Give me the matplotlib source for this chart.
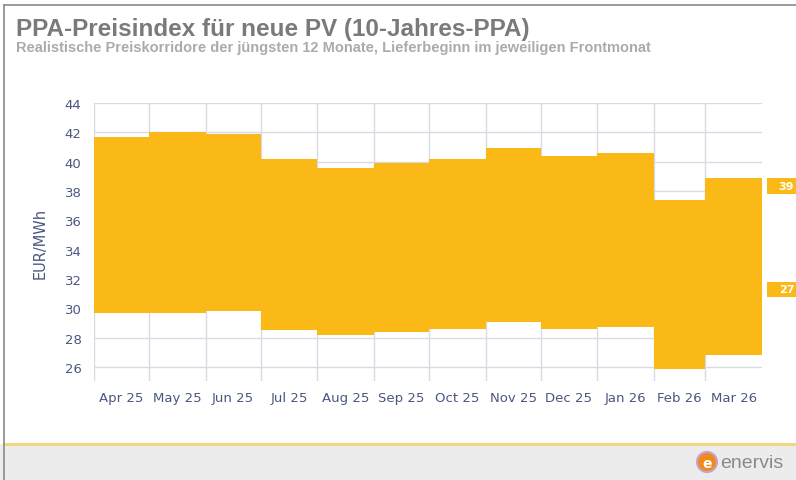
import matplotlib
matplotlib.use("Agg")
import matplotlib.pyplot as plt
import pandas as pd
from matplotlib.patches import Rectangle, Ellipse
from matplotlib.lines import Line2D

# delivery months (front month) and realistic price corridor in EUR/MWh
months = ["2025-04", "2025-05", "2025-06", "2025-07", "2025-08", "2025-09",
          "2025-10", "2025-11", "2025-12", "2026-01", "2026-02", "2026-03"]
end_month = "2026-04"
month_labels = ["Apr 25", "May 25", "Jun 25", "Jul 25", "Aug 25", "Sep 25",
                "Oct 25", "Nov 25", "Dec 25", "Jan 26", "Feb 26", "Mar 26"]
upper = [41.7, 42.0, 41.9, 40.2, 39.6, 39.9, 40.2, 40.9, 40.4, 40.6, 37.4, 38.9]
lower = [29.7, 29.7, 29.8, 28.5, 28.2, 28.4, 28.6, 29.1, 28.6, 28.7, 25.9, 26.8]
y_ticks = [26, 28, 30, 32, 34, 36, 38, 40, 42, 44]
last_labels = ["39", "27"]
last_label_pos = [38.35, 31.3]

BAND = "#fbb917"
TICK = "#4a5780"
GRID = "#d9dae3"

edges = pd.to_datetime(months + [end_month])
mids = edges[:-1] + (edges[1:] - edges[:-1]) / 2

fig = plt.figure(figsize=(7.96, 4.81), dpi=100)
W, H = 796, 481

# footer and frame
fig.patches.append(Rectangle((0, 0), 1, 1 - 445 / H, transform=fig.transFigure,
                             facecolor="#ececec", edgecolor="none", zorder=0))
fig.lines.append(Line2D([4 / W, 1], [1 - 445 / H] * 2, transform=fig.transFigure,
                        color="#f3d680", linewidth=2.2, zorder=1))
fig.lines.append(Line2D([4 / W, 1], [1 - 6 / H] * 2, transform=fig.transFigure,
                        color="#8a8a8a", linewidth=1.2))
fig.lines.append(Line2D([4 / W, 4 / W], [0, 1 - 6 / H], transform=fig.transFigure,
                        color="#8a8a8a", linewidth=1.2))

fig.text(16 / W, 1 - 36 / H, "PPA-Preisindex für neue PV (10-Jahres-PPA)",
         fontsize=17.5, fontweight="bold", color="#7a7a7a", family="Liberation Sans")
fig.text(16 / W, 1 - 52 / H,
         "Realistische Preiskorridore der jüngsten 12 Monate, Lieferbeginn im jeweiligen Frontmonat",
         fontsize=10.5, fontweight="bold", color="#ababab", family="Liberation Sans")

ax = fig.add_axes([94 / W, 1 - 382 / H, (762 - 94) / W, (382 - 104) / H])

ax.fill_between(edges, lower + [lower[-1]], upper + [upper[-1]],
                step="post", color=BAND, linewidth=0, zorder=2)

ax.set_xlim(edges[0], edges[-1])
ax.set_ylim(25.05, 44)
ax.set_yticks(y_ticks)
ax.set_xticks(mids)
ax.set_xticklabels(month_labels)
ax.set_xticks(edges[:-1], minor=True)
ax.tick_params(axis="x", which="major", length=0, pad=7, labelsize=9.5, labelcolor=TICK)
ax.tick_params(axis="x", which="minor", length=0)
ax.tick_params(axis="y", length=0, pad=9, labelsize=9.5, labelcolor=TICK)
ax.grid(True, axis="y", color=GRID, linewidth=1, zorder=1)
ax.grid(True, axis="x", which="minor", color=GRID, linewidth=1, zorder=1)
ax.set_axisbelow(True)
for spine in ax.spines.values():
    spine.set_visible(False)
ax.set_ylabel("EUR/MWh", fontsize=10.5, color=TICK, labelpad=12)

# last-value labels on the right (boxes run into the figure edge)
for text, yv in zip(last_labels, last_label_pos):
    ax.add_patch(Rectangle((1.0075, yv - 0.52), 0.06, 1.04,
                           transform=ax.get_yaxis_transform(), facecolor=BAND,
                           edgecolor="none", clip_on=False))
    ax.annotate(text, xy=(1, yv), xycoords=("axes fraction", "data"),
                xytext=(12, 0), textcoords="offset points", va="center", ha="left",
                fontsize=8, fontweight="bold", color="white", annotation_clip=False)

# logo
fig.patches.append(Ellipse((707 / W, 1 - 463 / H), 20 / W, 20 / H,
                           transform=fig.transFigure, facecolor="#f08a1c",
                           edgecolor="#c9a0d0", linewidth=1.5))
fig.text(707 / W, 1 - 464 / H, "e", ha="center", va="center", fontsize=10,
         color="white", fontweight="bold")
fig.text(720 / W, 1 - 464 / H, "enervis", ha="left", va="center", fontsize=14,
         color="#8a8a8a", family="Liberation Sans")

fig.savefig("out.png", dpi=100)
